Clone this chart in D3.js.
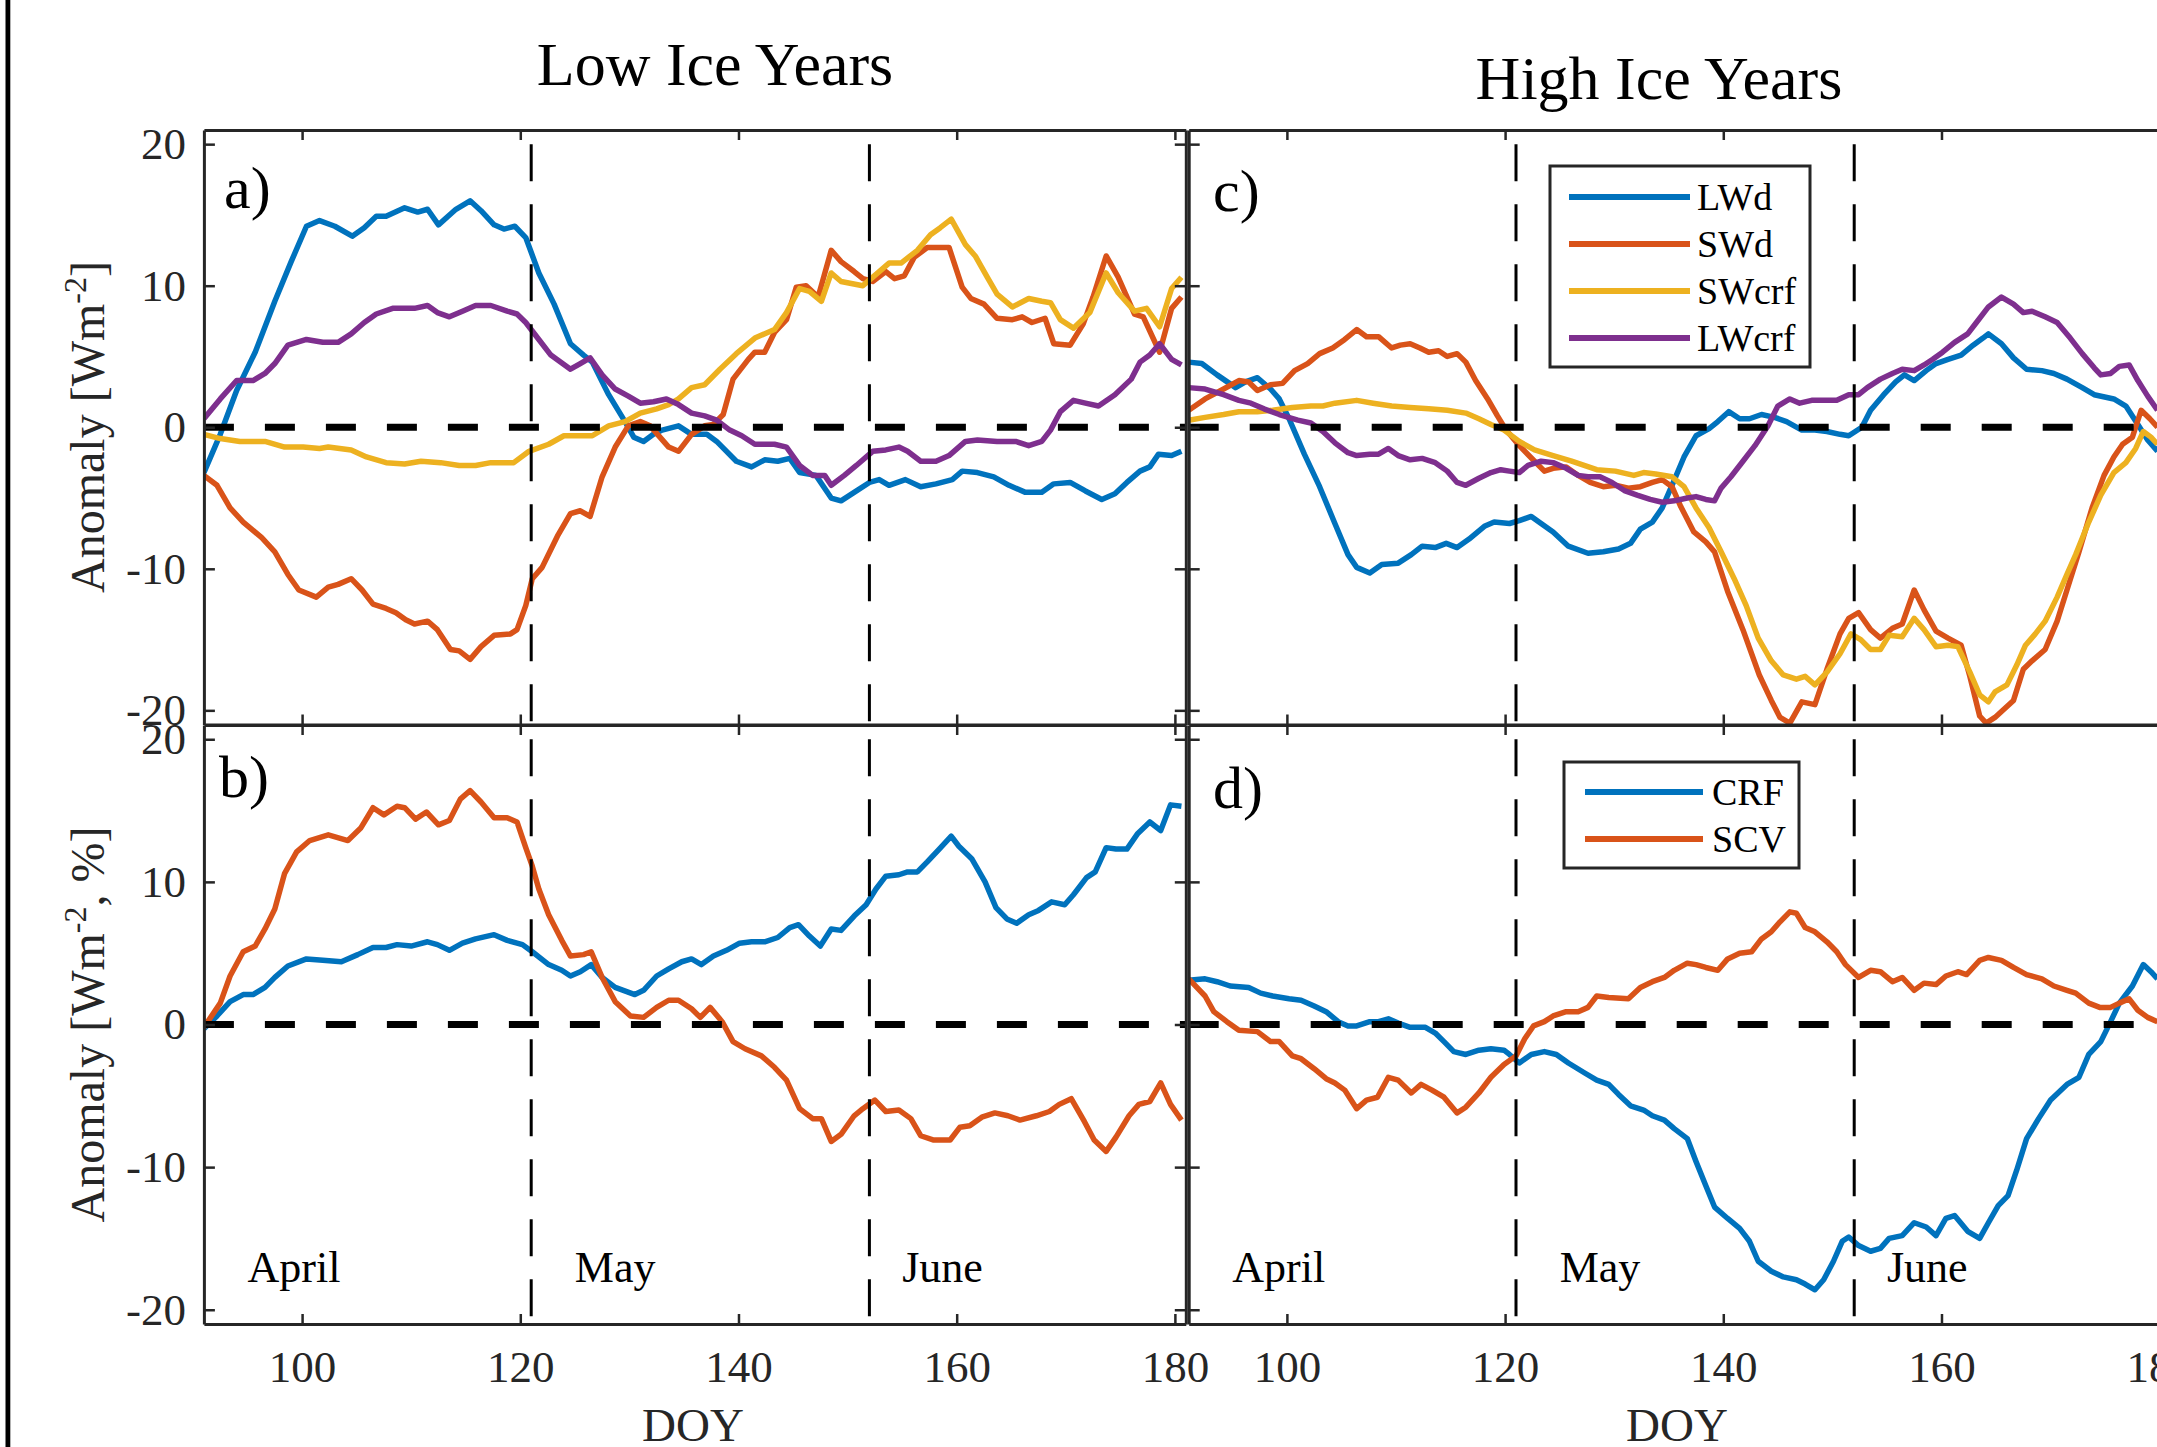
<!DOCTYPE html>
<html>
<head>
<meta charset="utf-8">
<script src="https://cdn.jsdelivr.net/npm/d3@7"></script>
<style>
  body { margin: 0; background: #fff; }
  svg { display: block; }
  text { font-family: "Liberation Serif", "Times New Roman", serif; }
</style>
</head>
<body>
<div id="chart"></div>
<script>
// ---- ejes / etiquetas ----
const xTicks = [100, 120, 140, 160, 180];
const yTicks = [-20, -10, 0, 10, 20];
const monthLines = [121, 152];
const monthNames = ['April', 'May', 'June'];
const monthNameDoy = [95, 125, 155];

// ---- panel a: Low Ice Years, flujos [DOY, anomalia] ----
const lowLWd = [[91,-3.2],[92.5,-0.5],[94,2.6],[95.7,5.3],[97.5,8.9],[99,11.7],[100.4,14.2],[101.6,14.6],[103,14.2],[104.6,13.5],[105.7,14.1],[106.8,14.9],[107.7,14.9],[109.4,15.5],[110.6,15.2],[111.5,15.4],[112.5,14.3],[114.1,15.4],[115.4,16.0],[116.4,15.3],[117.6,14.3],[118.5,14.0],[119.5,14.2],[120.5,13.4],[121.7,10.9],[123.1,8.7],[124.6,5.9],[125.8,5.1],[126.6,4.6],[128.1,2.3],[129.6,0.4],[130.4,-0.7],[131.3,-1.0],[132.2,-0.5],[133,-0.2],[134.5,0.1],[135.7,-0.5],[137.1,-0.5],[138,-1.0],[139.8,-2.4],[141.2,-2.8],[142.4,-2.3],[143.6,-2.4],[144.7,-2.2],[145.6,-3.2],[147.1,-3.4],[148.5,-5.0],[149.4,-5.2],[150.6,-4.6],[152,-3.9],[152.9,-3.7],[153.8,-4.1],[155.3,-3.7],[156.7,-4.2],[158.1,-4.0],[159.6,-3.7],[160.5,-3.1],[161.9,-3.2],[163.4,-3.5],[164.8,-4.1],[166.3,-4.6],[167.8,-4.6],[168.9,-4.0],[170.4,-3.9],[171.8,-4.5],[173.3,-5.1],[174.5,-4.7],[175.6,-3.9],[176.8,-3.1],[177.7,-2.8],[178.5,-1.9],[179.7,-2.0],[180.6,-1.7]];
const lowSWd = [[91,-3.4],[92.2,-4.1],[93.4,-5.7],[94.6,-6.7],[96.3,-7.8],[97.5,-8.8],[98.7,-10.4],[99.7,-11.5],[101.3,-12.0],[102.4,-11.3],[103.3,-11.1],[104.5,-10.7],[105.5,-11.5],[106.5,-12.5],[107.7,-12.8],[108.6,-13.1],[109.5,-13.6],[110.3,-13.9],[111.5,-13.7],[112.4,-14.3],[113.6,-15.7],[114.4,-15.8],[115.4,-16.4],[116.4,-15.5],[117.6,-14.7],[119.1,-14.6],[119.7,-14.3],[120.5,-12.6],[121.1,-10.7],[122,-9.9],[123.4,-7.7],[124.6,-6.1],[125.5,-5.9],[126.4,-6.3],[127.5,-3.5],[128.7,-1.4],[129.9,0.1],[131,0.4],[131.9,0.1],[132.8,-0.7],[133.6,-1.4],[134.5,-1.7],[135.7,-0.5],[136.9,0.1],[137.7,0.2],[138.6,0.9],[139.5,3.4],[140.9,4.8],[141.5,5.3],[142.4,5.3],[143.3,6.7],[144.4,7.6],[145.3,9.9],[146.2,10.0],[147.3,9.2],[148.5,12.5],[149.4,11.7],[150.6,11.0],[151.4,10.5],[152.3,10.3],[153.5,11.0],[154.3,10.5],[155.2,10.7],[156.1,12.0],[157.3,12.7],[158.5,12.7],[159.3,12.7],[160.5,9.9],[161.3,9.1],[162.5,8.7],[163.7,7.7],[165.1,7.6],[166,7.8],[166.9,7.4],[168.1,7.7],[168.9,5.9],[170.4,5.8],[171.6,7.3],[172.5,9.2],[173.7,12.1],[174.8,10.6],[176.3,8.0],[177.1,7.8],[178.6,5.3],[179.7,8.4],[180.6,9.2]];
const lowSWcrf = [[91,-0.5],[92.5,-0.8],[94.3,-1.0],[96.6,-1.0],[98.4,-1.4],[100.1,-1.4],[101.6,-1.5],[102.4,-1.4],[104.5,-1.6],[105.9,-2.1],[107.7,-2.5],[109.4,-2.6],[110.9,-2.4],[112.7,-2.5],[114.4,-2.7],[115.9,-2.7],[117.3,-2.5],[119.4,-2.5],[120.8,-1.7],[122.6,-1.2],[124,-0.6],[126.6,-0.6],[128.1,0.1],[129.6,0.4],[131,1.0],[132.5,1.3],[133.6,1.6],[134.5,2.0],[135.7,2.8],[136.9,3.0],[138.3,4.1],[139.8,5.2],[141.5,6.3],[143.3,6.9],[144.4,8.1],[145.6,9.8],[146.5,9.6],[147.6,8.9],[148.5,10.9],[149.4,10.3],[151.4,10.0],[152.9,11.0],[153.8,11.6],[154.9,11.6],[156.4,12.5],[157.6,13.6],[158.5,14.1],[159.5,14.7],[160.8,12.9],[161.7,12.1],[162.8,10.6],[163.7,9.4],[165.1,8.5],[166.6,9.1],[167.8,8.9],[168.6,8.8],[169.5,7.6],[170.7,7.0],[172.2,8.1],[173.7,10.9],[174.8,9.5],[176.3,8.2],[177.4,8.4],[178.6,7.1],[179.7,9.8],[180.6,10.6]];
const lowLWcrf = [[91,0.6],[92.5,2.0],[94,3.3],[95.5,3.3],[96.6,3.8],[97.5,4.5],[98.7,5.8],[100.4,6.2],[101.9,6.0],[103.3,6.0],[104.5,6.6],[105.7,7.4],[106.8,8.0],[108.3,8.4],[110.3,8.4],[111.5,8.6],[112.4,8.1],[113.5,7.8],[114.7,8.2],[115.9,8.6],[117.3,8.6],[118.8,8.2],[119.7,8.0],[120.5,7.4],[121.7,6.2],[122.8,5.1],[124.6,4.1],[125.5,4.5],[126.4,4.9],[127.5,3.7],[128.7,2.7],[129.9,2.2],[131,1.7],[132.2,1.8],[133.4,2.0],[134.5,1.6],[135.7,1.0],[136.9,0.8],[138,0.5],[139.2,-0.2],[140.3,-0.6],[141.5,-1.2],[143.3,-1.2],[144.4,-1.4],[145.6,-2.7],[146.8,-3.4],[147.9,-3.4],[148.5,-4.1],[149.7,-3.4],[150.8,-2.7],[152.3,-1.7],[153.5,-1.6],[154.7,-1.4],[155.5,-1.7],[156.7,-2.4],[158.1,-2.4],[159.3,-2.0],[160.8,-1.0],[161.9,-0.9],[163.7,-1.0],[165.4,-1.0],[166.6,-1.3],[167.8,-1.0],[168.6,-0.2],[169.5,1.1],[170.7,1.9],[171.8,1.7],[173,1.5],[174.5,2.3],[176,3.4],[176.8,4.6],[177.7,5.1],[178.6,5.9],[179.7,4.8],[180.6,4.4]];

// ---- panel b: Low Ice Years, CRF y SCV ----
const lowCRF = [[91,-0.3],[92.2,0.6],[93.4,1.6],[94.6,2.1],[95.5,2.1],[96.6,2.6],[97.5,3.3],[98.7,4.1],[100.4,4.6],[101.9,4.5],[103.6,4.4],[105.1,4.9],[106.5,5.4],[107.7,5.4],[108.7,5.6],[110,5.5],[111.5,5.8],[112.4,5.6],[113.5,5.2],[114.7,5.7],[115.9,6.0],[117.6,6.3],[118.8,5.9],[120.2,5.6],[121.1,5.1],[122.6,4.2],[123.8,3.8],[124.6,3.4],[125.5,3.7],[126.5,4.2],[127.5,3.3],[128.7,2.6],[130.5,2.1],[131.3,2.4],[132.5,3.4],[133.6,3.9],[134.8,4.4],[135.7,4.6],[136.6,4.2],[137.7,4.8],[138.9,5.2],[140.1,5.7],[141.2,5.8],[142.4,5.8],[143.6,6.1],[144.7,6.8],[145.5,7.0],[146.5,6.2],[147.5,5.5],[148.5,6.7],[149.4,6.6],[150.6,7.6],[151.7,8.4],[152.6,9.5],[153.5,10.4],[154.7,10.5],[155.5,10.7],[156.4,10.7],[157.3,11.4],[158.4,12.3],[159.5,13.2],[160.2,12.5],[161.4,11.6],[162.6,10.0],[163.6,8.2],[164.6,7.4],[165.5,7.1],[166.6,7.7],[167.5,8.0],[168.7,8.6],[169.9,8.4],[170.7,9.1],[171.9,10.3],[172.7,10.7],[173.7,12.4],[174.6,12.3],[175.6,12.3],[176.6,13.4],[177.7,14.2],[178.7,13.6],[179.6,15.4],[180.6,15.3]];
const lowSCV = [[91,-0.2],[92.5,1.5],[93.4,3.4],[94.6,5.1],[95.7,5.5],[96.6,6.7],[97.5,8.1],[98.4,10.6],[99.5,12.1],[100.7,12.9],[102.4,13.3],[104.2,12.9],[105.4,13.8],[106.5,15.2],[107.5,14.7],[108.7,15.3],[109.4,15.2],[110.4,14.4],[111.4,14.9],[112.5,14.0],[113.5,14.3],[114.5,15.8],[115.4,16.4],[116.4,15.6],[117.6,14.5],[118.8,14.5],[119.7,14.2],[120.5,12.4],[121.1,11.1],[121.7,9.5],[122.6,7.7],[123.8,5.9],[124.6,4.8],[125.8,4.9],[126.5,5.1],[127.5,3.3],[128.7,1.6],[130.1,0.6],[131.3,0.5],[132.5,1.2],[133.6,1.7],[134.5,1.7],[135.7,1.1],[136.5,0.5],[137.4,1.2],[138.5,0.2],[139.5,-1.2],[140.6,-1.7],[142.1,-2.2],[143.3,-3.0],[144.4,-3.9],[145.6,-5.9],[146.8,-6.6],[147.6,-6.6],[148.5,-8.2],[149.4,-7.7],[150.6,-6.4],[151.4,-5.9],[152.5,-5.3],[153.5,-6.1],[154.7,-6.0],[155.8,-6.6],[156.7,-7.8],[157.9,-8.1],[159.4,-8.1],[160.3,-7.2],[161.2,-7.1],[162.3,-6.5],[163.5,-6.2],[164.7,-6.4],[165.8,-6.7],[167.3,-6.4],[168.5,-6.1],[169.4,-5.6],[170.5,-5.2],[171.7,-6.8],[172.6,-8.1],[173.7,-8.9],[174.6,-7.9],[175.8,-6.4],[176.7,-5.6],[177.7,-5.4],[178.7,-4.1],[179.6,-5.6],[180.6,-6.7]];

// ---- panel c: High Ice Years, flujos ----
const highLWd = [[91,4.6],[92.2,4.5],[93.6,3.7],[95.3,2.8],[96.2,3.2],[97.3,3.5],[98.5,2.7],[99.3,2.0],[100.2,0.6],[101.6,-1.9],[103,-4.2],[104.4,-6.8],[105.6,-9.0],[106.4,-9.9],[107.6,-10.3],[108.7,-9.7],[110.2,-9.6],[111.4,-9.0],[112.4,-8.4],[113.6,-8.5],[114.6,-8.2],[115.6,-8.5],[116.7,-7.9],[118.1,-7.0],[119,-6.7],[120.4,-6.8],[121.3,-6.6],[122.4,-6.3],[123.3,-6.8],[124.4,-7.4],[125.8,-8.4],[127.6,-8.9],[129,-8.8],[130.4,-8.6],[131.5,-8.2],[132.4,-7.2],[133.5,-6.7],[134.4,-5.7],[135.3,-4.1],[136.4,-2.1],[137.5,-0.6],[138.7,-0.1],[139.5,0.4],[140.5,1.1],[141.5,0.6],[142.4,0.6],[143.5,0.9],[144.7,0.7],[145.8,0.4],[147.2,-0.2],[148.4,-0.2],[149.5,-0.3],[150.7,-0.5],[151.5,-0.6],[152.7,0.0],[153.5,1.2],[154.7,2.3],[155.8,3.2],[156.6,3.7],[157.5,3.3],[158.6,4.0],[159.5,4.5],[160.6,4.8],[161.8,5.1],[162.9,5.8],[163.8,6.3],[164.3,6.6],[165.5,5.9],[166.6,4.9],[167.8,4.1],[169.2,4.0],[170.3,3.8],[171.5,3.4],[172.9,2.8],[174,2.3],[175.8,2.0],[176.9,1.5],[178,0.2],[178.9,-0.9],[179.8,-1.7]];
const highSWd = [[91,1.2],[92.5,2.0],[94.2,2.7],[95.6,3.3],[96.5,3.2],[97.3,2.6],[98.5,3.0],[99.6,3.1],[100.7,4.0],[101.9,4.5],[103,5.2],[104.2,5.6],[105.3,6.2],[106.4,6.9],[107.3,6.4],[108.4,6.4],[109.6,5.6],[110.4,5.8],[111.3,5.9],[112.2,5.6],[113,5.3],[113.9,5.4],[114.7,5.0],[115.6,5.2],[116.4,4.6],[117.3,3.3],[118.4,2.0],[119.3,0.8],[120.1,-0.2],[121.3,-1.3],[122.7,-2.4],[123.6,-3.1],[124.4,-2.9],[125.6,-2.8],[126.7,-3.4],[127.8,-3.9],[129,-4.2],[130.1,-4.1],[131.3,-4.3],[132.4,-4.2],[133.5,-3.9],[134.4,-3.7],[135.3,-4.2],[136.1,-5.6],[137.3,-7.4],[138.4,-8.1],[139.2,-8.8],[140.4,-11.6],[141.8,-14.3],[143.3,-17.5],[144.4,-19.3],[145.2,-20.5],[146.1,-20.9],[147.2,-19.4],[148.4,-19.6],[149.5,-17.1],[150.7,-14.6],[151.5,-13.5],[152.4,-13.1],[153.5,-14.3],[154.4,-14.9],[155.5,-14.2],[156.4,-13.9],[157.5,-11.5],[158.4,-12.9],[159.5,-14.4],[160.6,-14.9],[161.8,-15.4],[162.6,-17.6],[163.5,-20.4],[164.1,-20.9],[164.9,-20.5],[166.6,-19.3],[167.5,-17.1],[168.3,-16.5],[169.5,-15.7],[170.6,-13.7],[171.5,-11.5],[172.6,-8.8],[173.8,-5.7],[174.9,-3.4],[175.8,-2.1],[176.6,-1.2],[177.5,-0.7],[178.3,1.2],[179.1,0.6],[179.8,0.0]];
const highSWcrf = [[91,0.5],[92.5,0.7],[94.2,0.9],[95.6,1.1],[97.3,1.1],[98.7,1.2],[100.5,1.4],[102.2,1.5],[103.3,1.5],[104.4,1.7],[106.4,1.9],[107.9,1.7],[109.6,1.5],[111.3,1.4],[113,1.3],[114.7,1.2],[116.4,1.0],[117.6,0.6],[118.7,0.2],[119.9,-0.2],[121.3,-1.0],[122.7,-1.6],[124.4,-2.0],[126.1,-2.4],[128.4,-3.0],[130.1,-3.1],[131.8,-3.4],[132.7,-3.2],[133.8,-3.3],[135.3,-3.5],[136.4,-4.2],[137.5,-5.7],[138.7,-7.1],[139.8,-8.8],[141,-10.7],[142.1,-12.6],[143.2,-14.9],[144.4,-16.5],[145.5,-17.5],[146.7,-17.8],[147.5,-17.6],[148.4,-18.2],[149.5,-17.3],[150.7,-16.0],[151.7,-14.6],[152.6,-15.0],[153.5,-15.7],[154.4,-15.7],[155.2,-14.7],[156.4,-14.8],[157.5,-13.5],[158.4,-14.3],[159.5,-15.5],[160.6,-15.4],[161.5,-15.5],[162.6,-17.3],[163.5,-18.9],[164.3,-19.4],[164.9,-18.7],[166,-18.2],[166.9,-16.8],[167.7,-15.4],[168.6,-14.6],[169.5,-13.7],[170.6,-12.0],[171.5,-10.4],[172.3,-9.0],[173.5,-6.7],[174.6,-4.8],[175.8,-3.2],[176.9,-2.5],[177.8,-1.5],[178.5,-0.3],[179.2,-0.7],[179.8,-1.2]];
const highLWcrf = [[91,2.8],[92.5,2.7],[94.2,2.3],[95.6,1.9],[96.7,1.7],[97.9,1.3],[99.3,0.9],[101,0.5],[102.2,0.3],[103.3,-0.3],[104.4,-1.1],[105.6,-1.8],[106.4,-2.0],[107.6,-1.9],[108.4,-1.9],[109.3,-1.5],[110.2,-2.0],[111.3,-2.3],[112.4,-2.2],[113.6,-2.5],[114.7,-3.1],[115.6,-3.9],[116.4,-4.1],[117.6,-3.6],[118.7,-3.2],[119.6,-3.0],[120.4,-3.1],[121.3,-3.2],[122.1,-2.7],[123.3,-2.4],[124.4,-2.5],[125.6,-2.9],[126.7,-3.4],[127.6,-3.5],[128.7,-3.5],[129.8,-3.9],[131,-4.5],[132.1,-4.8],[133.3,-5.1],[134.4,-5.3],[135.5,-5.2],[136.7,-5.0],[137.5,-4.9],[138.4,-5.1],[139.2,-5.2],[139.8,-4.3],[140.7,-3.5],[141.8,-2.4],[142.9,-1.3],[144.1,0.1],[145,1.5],[146.1,2.0],[147,1.7],[148.1,1.9],[149.5,1.9],[150.4,1.9],[151.5,2.3],[152.4,2.3],[153.2,2.8],[154.4,3.4],[155.5,3.8],[156.4,4.1],[157.5,4.0],[158.4,4.4],[159.2,4.8],[160.1,5.3],[161.2,6.0],[162.4,6.6],[163.2,7.4],[164.3,8.5],[165.5,9.2],[166.6,8.7],[167.5,8.1],[168.3,8.2],[169.5,7.8],[170.6,7.4],[171.8,6.3],[172.9,5.2],[174,4.2],[174.6,3.7],[175.5,3.8],[176.3,4.3],[177.2,4.4],[178,3.3],[178.9,2.2],[179.8,1.2]];

// ---- panel d: High Ice Years, CRF y SCV ----
const highCRF = [[91,3.1],[92.5,3.2],[93.6,3.0],[94.8,2.7],[96.5,2.6],[97.6,2.2],[98.7,2.0],[100.2,1.8],[101.3,1.7],[102.5,1.3],[103.6,0.9],[104.7,0.2],[105.6,-0.1],[106.4,-0.1],[107.6,0.2],[108.4,0.2],[109.3,0.4],[110.2,0.1],[111.3,-0.2],[112.7,-0.2],[113.6,-0.6],[114.4,-1.2],[115.3,-1.9],[116.4,-2.1],[117.6,-1.8],[118.7,-1.7],[119.9,-1.8],[120.4,-2.1],[121.3,-2.7],[122.4,-2.1],[123.6,-1.9],[124.7,-2.1],[125.8,-2.7],[127.3,-3.4],[128.4,-3.9],[129.5,-4.2],[130.4,-4.9],[131.5,-5.7],[132.7,-6.0],[133.5,-6.4],[134.6,-6.7],[135.5,-7.3],[136.7,-8.0],[137.5,-9.6],[138.4,-11.3],[139.2,-12.8],[140.4,-13.6],[141.5,-14.3],[142.4,-15.2],[143.2,-16.6],[144.4,-17.3],[145.5,-17.7],[146.7,-17.9],[147.5,-18.2],[148.4,-18.6],[149.2,-17.9],[150.1,-16.6],[150.9,-15.2],[151.5,-14.9],[152.4,-15.5],[153.5,-15.9],[154.4,-15.7],[155.2,-15.0],[156.4,-14.8],[157.5,-13.9],[158.6,-14.2],[159.5,-14.8],[160.4,-13.6],[161.2,-13.4],[162.4,-14.5],[163.5,-15.0],[164.3,-13.9],[165.2,-12.7],[166.1,-12.0],[166.9,-10.2],[167.8,-8.0],[168.9,-6.6],[170,-5.3],[171.5,-4.2],[172.6,-3.7],[173.5,-2.1],[174.6,-1.2],[175.5,0.2],[176.3,1.5],[177.5,2.7],[178.5,4.2],[179.2,3.7],[179.8,3.2]];
const highSCV = [[91,3.2],[92.5,2.0],[93.3,0.9],[94.5,0.2],[95.6,-0.4],[97.3,-0.5],[98.5,-1.2],[99.3,-1.2],[100.5,-2.2],[101.3,-2.4],[102.5,-3.1],[103.6,-3.8],[104.4,-4.1],[105.3,-4.6],[106.4,-5.9],[107.3,-5.3],[108.3,-5.1],[109.3,-3.7],[110.2,-3.9],[111.4,-4.8],[112.3,-4.2],[113.3,-4.6],[114.4,-5.1],[115.6,-6.2],[116.4,-5.8],[117.6,-4.8],[118.7,-3.7],[119.9,-2.8],[121,-2.2],[121.8,-1.0],[122.6,-0.1],[123.6,0.2],[124.4,0.6],[125.6,0.9],[126.7,0.9],[127.6,1.2],[128.4,2.0],[129.5,1.9],[131.3,1.8],[132.4,2.6],[133.5,3.0],[134.6,3.3],[135.5,3.8],[136.7,4.3],[137.5,4.2],[138.4,4.0],[139.5,3.8],[140.4,4.6],[141.5,5.0],[142.6,5.1],[143.5,6.0],[144.4,6.5],[145.2,7.2],[146.1,7.9],[146.7,7.8],[147.5,6.8],[148.4,6.5],[149.5,5.8],[150.4,5.1],[151.2,4.2],[152.4,3.3],[153.5,3.8],[154.4,3.7],[155.5,3.0],[156.4,3.3],[157.5,2.4],[158.4,2.9],[159.5,2.8],[160.4,3.4],[161.5,3.7],[162.3,3.5],[163.5,4.5],[164.3,4.7],[165.5,4.5],[166.6,4.0],[167.8,3.5],[169.2,3.2],[170.3,2.7],[171.5,2.4],[172.3,2.2],[173.5,1.5],[174.5,1.2],[175.5,1.2],[176.3,1.5],[177.2,1.8],[178,1.0],[178.9,0.5],[179.8,0.2]];

// colores por defecto de MATLAB
const colors = {LWd: '#0072BD', SWd: '#D95319', SWcrf: '#EDB120', LWcrf: '#7E2F8E', CRF: '#0072BD', SCV: '#D95319'};

const W = 2157, H = 1447;
const axisColor = '#262626';
const pxPerDay = 10.91;

const panels = [
  {label: 'a)', left: 203.9, top: 130, bottom: 724.5, yTickLabels: true, months: false,
   series: [['LWd', lowLWd], ['SWd', lowSWd], ['SWcrf', lowSWcrf], ['LWcrf', lowLWcrf]], legend: null,
   labelPos: [224, 208]},
  {label: 'b)', left: 203.9, top: 725, bottom: 1324, yTickLabels: true, months: true,
   series: [['CRF', lowCRF], ['SCV', lowSCV]], legend: null,
   labelPos: [219, 797]},
  {label: 'c)', left: 1188.7, top: 130, bottom: 724.5, yTickLabels: false, months: false,
   series: [['LWd', highLWd], ['SWd', highSWd], ['SWcrf', highSWcrf], ['LWcrf', highLWcrf]],
   legend: {x: 1550, y: 166, w: 260, h: 201, rowY: [197, 244, 291, 338], line: [1569, 1690], textX: 1697},
   labelPos: [1213, 211]},
  {label: 'd)', left: 1188.7, top: 725, bottom: 1324, yTickLabels: false, months: true,
   series: [['CRF', highCRF], ['SCV', highSCV]],
   legend: {x: 1564, y: 762, w: 235, h: 106, rowY: [792, 839], line: [1585, 1703], textX: 1712},
   labelPos: [1213, 808]}
];

// etiquetas con guion simple, como MATLAB
const fmt = d => String(d);

const svg = d3.select('#chart').append('svg')
    .attr('width', W)
    .attr('height', H)
    .attr('viewBox', `0 0 ${W} ${H}`);

svg.append('rect').attr('width', W).attr('height', H).attr('fill', '#fff');

// linea negra del borde izquierdo
svg.append('rect').attr('x', 5.5).attr('y', 0).attr('width', 4.8).attr('height', H).attr('fill', '#000');

const line = d3.line().curve(d3.curveLinear);

panels.forEach(function(p, i) {
    let x = d3.scaleLinear().domain([91, 181]).range([p.left, p.left + 90 * pxPerDay]);
    let y = d3.scaleLinear().domain([-21, 21]).range([p.bottom, p.top]);
    let g = svg.append('g');

    g.append('rect')
        .attr('x', x(91)).attr('y', p.top)
        .attr('width', x(181) - x(91)).attr('height', p.bottom - p.top)
        .attr('fill', '#fff');

    let clipId = 'clip' + i;
    svg.append('clipPath').attr('id', clipId)
        .append('rect')
        .attr('x', x(91)).attr('y', p.top)
        .attr('width', x(181) - x(91)).attr('height', p.bottom - p.top);

    let plot = g.append('g').attr('clip-path', `url(#${clipId})`);

    line.x(d => x(d[0])).y(d => y(d[1]));

    p.series.forEach(function(s) {
        plot.append('path')
            .datum(s[1])
            .attr('d', line)
            .attr('fill', 'none')
            .attr('stroke', colors[s[0]])
            .attr('stroke-width', 5.5)
            .attr('stroke-linejoin', 'round');
    });

    // linea cero
    plot.append('line')
        .attr('x1', x(91)).attr('x2', x(181))
        .attr('y1', y(0)).attr('y2', y(0))
        .attr('stroke', '#000')
        .attr('stroke-width', 7)
        .attr('stroke-dasharray', '30,31');

    // limites de mes
    monthLines.forEach(function(m) {
        plot.append('line')
            .attr('x1', x(m)).attr('x2', x(m))
            .attr('y1', y(20)).attr('y2', y(-21))
            .attr('stroke', '#000')
            .attr('stroke-width', 3)
            .attr('stroke-dasharray', '37,23');
    });

    if (p.months) {
        monthNames.forEach(function(name, k) {
            g.append('text')
                .attr('x', x(monthNameDoy[k]))
                .attr('y', 1282)
                .attr('font-size', 44)
                .attr('fill', '#000')
                .text(name);
        });
    }

    g.append('text')
        .attr('x', p.labelPos[0]).attr('y', p.labelPos[1])
        .attr('font-size', 60)
        .attr('fill', '#000')
        .text(p.label);

    // ejes
    let axB = g.append('g').attr('transform', `translate(0,${p.bottom})`)
        .call(d3.axisBottom(x).tickValues(xTicks).tickSize(-10).tickSizeOuter(0).tickPadding(26)
            .tickFormat(p.months ? fmt : ''));
    let axT = g.append('g').attr('transform', `translate(0,${p.top})`)
        .call(d3.axisTop(x).tickValues(xTicks).tickSize(-10).tickSizeOuter(0).tickFormat(''));
    let axL = g.append('g').attr('transform', `translate(${x(91)},0)`)
        .call(d3.axisLeft(y).tickValues(yTicks).tickSize(-11).tickSizeOuter(0).tickPadding(18)
            .tickFormat(p.yTickLabels ? fmt : ''));
    let axR = g.append('g').attr('transform', `translate(${x(181)},0)`)
        .call(d3.axisRight(y).tickValues(yTicks).tickSize(-11).tickSizeOuter(0).tickFormat(''));

    [axB, axT, axL, axR].forEach(function(a) {
        a.attr('font-family', null).attr('font-size', null);
        a.select('.domain').attr('stroke', axisColor).attr('stroke-width', 3);
        a.selectAll('.tick line').attr('stroke', axisColor).attr('stroke-width', 2.5);
        a.selectAll('.tick text').attr('fill', axisColor).attr('font-size', 45)
            .style('font-family', '"Liberation Serif", serif');
    });

    if (p.legend) {
        let L = p.legend;
        let lg = g.append('g');
        lg.append('rect')
            .attr('x', L.x).attr('y', L.y).attr('width', L.w).attr('height', L.h)
            .attr('fill', '#fff').attr('stroke', axisColor).attr('stroke-width', 3);
        p.series.forEach(function(s, k) {
            lg.append('line')
                .attr('x1', L.line[0]).attr('x2', L.line[1])
                .attr('y1', L.rowY[k]).attr('y2', L.rowY[k])
                .attr('stroke', colors[s[0]]).attr('stroke-width', 6);
            lg.append('text')
                .attr('x', L.textX).attr('y', L.rowY[k])
                .attr('dy', '0.34em')
                .attr('font-size', 38)
                .attr('fill', '#000')
                .text(s[0]);
        });
    }
});

// titulos
svg.append('text').attr('x', 715).attr('y', 85).attr('text-anchor', 'middle')
    .attr('font-size', 62).attr('fill', '#000').text('Low Ice Years');
svg.append('text').attr('x', 1659).attr('y', 99).attr('text-anchor', 'middle')
    .attr('font-size', 62).attr('fill', '#000').text('High Ice Years');

// etiquetas x
svg.append('text').attr('x', 693).attr('y', 1441).attr('text-anchor', 'middle')
    .attr('font-size', 47).attr('fill', axisColor).text('DOY');
svg.append('text').attr('x', 1677).attr('y', 1441).attr('text-anchor', 'middle')
    .attr('font-size', 47).attr('fill', axisColor).text('DOY');

// etiquetas y
function yLabel(cy, tail) {
    let t = svg.append('text')
        .attr('transform', `translate(104,${cy}) rotate(-90)`)
        .attr('text-anchor', 'middle')
        .attr('font-size', 48)
        .attr('fill', axisColor);
    t.append('tspan').text('Anomaly [Wm');
    t.append('tspan').attr('dy', -18).attr('font-size', 32).text('-2');
    t.append('tspan').attr('dy', 18).text(tail);
}
yLabel(427, ']');
yLabel(1024.5, ', %]');
</script>
</body>
</html>
